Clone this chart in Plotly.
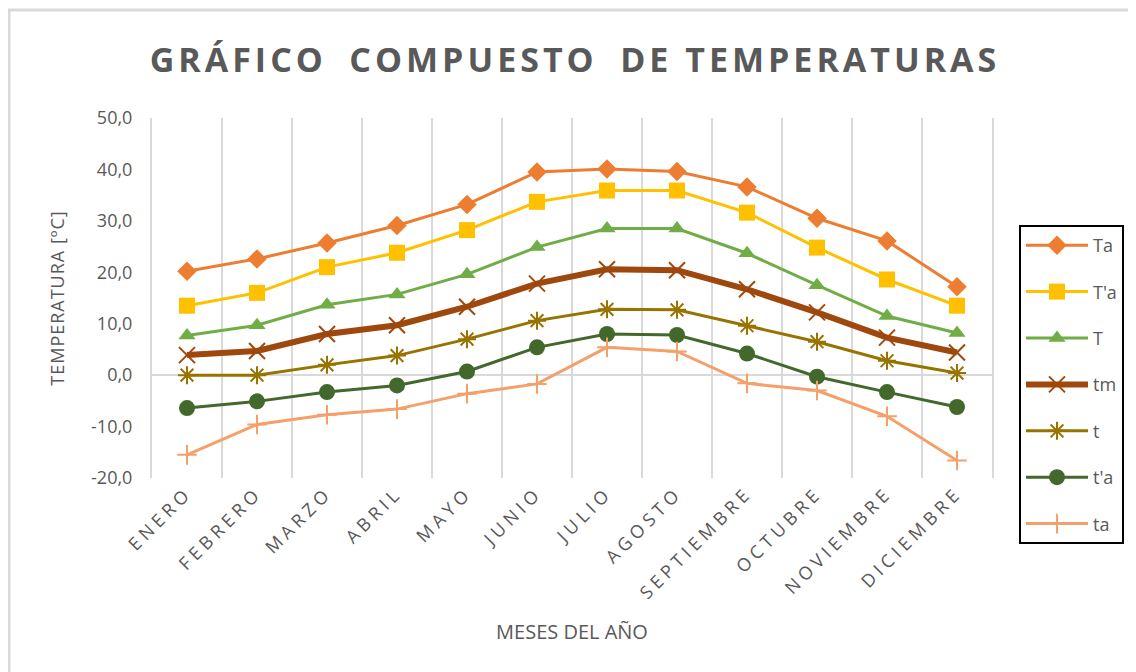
import plotly.graph_objects as go

months = ["ENERO", "FEBRERO", "MARZO", "ABRIL", "MAYO", "JUNIO", "JULIO",
          "AGOSTO", "SEPTIEMBRE", "OCTUBRE", "NOVIEMBRE", "DICIEMBRE"]

Ta = [20.2, 22.6, 25.7, 29.1, 33.2, 39.5, 40.1, 39.6, 36.6, 30.5, 26.1, 17.2]
Tpa = [13.5, 16.0, 21.0, 23.8, 28.2, 33.7, 35.9, 35.9, 31.6, 24.8, 18.6, 13.5]
T = [7.7, 9.7, 13.7, 15.7, 19.6, 24.9, 28.5, 28.5, 23.7, 17.5, 11.5, 8.2]
tm = [3.9, 4.7, 8.0, 9.7, 13.3, 17.8, 20.6, 20.4, 16.7, 12.2, 7.3, 4.4]
t = [0.0, 0.0, 2.0, 3.8, 7.0, 10.6, 12.8, 12.7, 9.6, 6.5, 2.8, 0.4]
tpa = [-6.4, -5.1, -3.3, -2.0, 0.7, 5.4, 8.0, 7.8, 4.2, -0.3, -3.3, -6.2]
ta = [-15.5, -9.6, -7.7, -6.6, -3.6, -1.7, 5.4, 4.6, -1.6, -3.0, -8.0, -16.6]

series_names = ["Ta", "T'a", "T", "tm", "t", "t'a", "ta"]
series_values = [Ta, Tpa, T, tm, t, tpa, ta]

y_tickvals = [-20, -10, 0, 10, 20, 30, 40, 50]
y_ticktext = ["-20,0", "-10,0", "0,0", "10,0", "20,0", "30,0", "40,0", "50,0"]

styles = {
    "Ta":  dict(color="#ED7D31", width=3, symbol="diamond", size=15, open=False),
    "T'a": dict(color="#FFC000", width=3, symbol="square", size=16, open=False),
    "T":   dict(color="#70AD47", width=3, symbol="triangle-up", size=15, open=False),
    "tm":  dict(color="#9E480E", width=6, symbol="x-thin", size=16, open=True),
    "t":   dict(color="#997300", width=3, symbol="asterisk", size=15, open=True),
    "t'a": dict(color="#43682B", width=3, symbol="circle", size=16, open=False),
    "ta":  dict(color="#F4A06A", width=3, symbol="cross-thin", size=14, open=True),
}

GRAY = "#595959"
FONT = "Open Sans"

# the page body adds an 8 px offset; work in screen pixels and shift back
OX, OY = 8, 8
W, H = 1136 - OX, 672 - OY
PL, PR, PT, PB = 152 - OX, 992 - OX, 118 - OY, 478 - OY
PW, PH = PR - PL, PB - PT


def px_x(sx):
    return (sx - OX - PL) / PW


def px_y(sy):
    return (PB - (sy - OY)) / PH


fig = go.Figure()
for i, (name, vals) in enumerate(zip(series_names, series_values)):
    s = styles[name]
    if s["open"]:
        marker = dict(symbol=s["symbol"], size=s["size"], color=s["color"],
                      line=dict(width=2, color=s["color"]))
    else:
        marker = dict(symbol=s["symbol"], size=s["size"], color=s["color"],
                      line=dict(width=0))
    fig.add_trace(go.Scatter(
        x=months, y=vals, name=name, mode="lines+markers",
        line=dict(color=s["color"], width=s["width"]),
        marker=marker, legendgroup=f"g{i}",
    ))

fig.update_layout(
    width=W, height=H,
    paper_bgcolor="white", plot_bgcolor="white",
    margin=dict(l=PL, r=W - PR, t=PT, b=H - PB, autoexpand=False),
    font=dict(family=FONT, color=GRAY),
    title=dict(
        text='<span style="letter-spacing:4px">GRÁFICO\u2009 COMPUESTO\u2009 DE TEMPERATURAS</span>',
        font=dict(size=34, family=FONT, color=GRAY, weight="bold"),
        x=(575 - OX) / W, xanchor="center", xref="container",
        y=1 - (60 - OY) / H, yanchor="middle", yref="container",
    ),
    xaxis=dict(
        type="category", range=[-0.5, 11.5],
        tickson="boundaries", showgrid=True, gridcolor="#D9D9D9", gridwidth=2,
        ticks="", showline=False, zeroline=False,
        tickangle=-45,
        tickvals=months,
        ticktext=[f'<span style="letter-spacing:4.5px">{m}</span>' for m in months],
        tickfont=dict(size=18, color=GRAY, family=FONT),
        title=dict(text="MESES DEL AÑO", font=dict(size=20, color=GRAY, family=FONT), standoff=22),
    ),
    yaxis=dict(
        range=[-20, 50], tickvals=y_tickvals, ticktext=y_ticktext,
        showgrid=False, zeroline=True, zerolinecolor="#D9D9D9", zerolinewidth=2,
        showline=True, linecolor="#D9D9D9", linewidth=2, mirror=True,
        ticks="", ticklabelstandoff=14,
        tickfont=dict(size=18, color=GRAY, family=FONT),
        title=dict(text='<span style="letter-spacing:1px">TEMPERATURA [ºC]</span>',
                   font=dict(size=18, color=GRAY, family=FONT), standoff=22),
    ),
    legend=dict(
        x=px_x(1019), xanchor="left",
        y=px_y(225), yanchor="top",
        bordercolor="black", borderwidth=2, bgcolor="white",
        font=dict(size=18, color=GRAY, family=FONT),
        tracegroupgap=20, itemwidth=62,
    ),
    shapes=[dict(type="rect", xref="paper", yref="paper",
                 x0=px_x(9), x1=px_x(1150),
                 y0=px_y(690), y1=px_y(10),
                 line=dict(color="#D9D9D9", width=3), layer="below")],
)

fig.write_html("out.html")
